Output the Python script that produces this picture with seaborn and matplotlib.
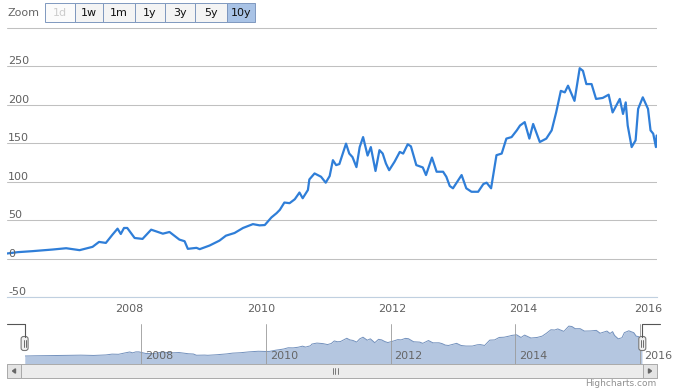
import matplotlib
matplotlib.use("Agg")
import matplotlib.pyplot as plt
import matplotlib.patches as mpatches
import matplotlib.transforms as mtransforms
import seaborn as sns
import pandas as pd

# weekly-ish closing values
dates = [
    "2006-02-20", "2006-04-20", "2006-07-10", "2006-10-30", "2007-01-14", "2007-03-30",
    "2007-06-10", "2007-07-16", "2007-08-23", "2007-09-29", "2007-10-27", "2007-11-14",
    "2007-12-02", "2007-12-20", "2008-01-30", "2008-03-14", "2008-05-01", "2008-07-05",
    "2008-08-11", "2008-10-05", "2008-11-03", "2008-11-21", "2009-01-08", "2009-01-26",
    "2009-03-22", "2009-05-16", "2009-06-21", "2009-08-08", "2009-09-24", "2009-11-18",
    "2009-12-25", "2010-01-23", "2010-03-01", "2010-03-30", "2010-04-17", "2010-05-12",
    "2010-06-10", "2010-07-09", "2010-08-04", "2010-08-22", "2010-09-20", "2010-09-28",
    "2010-10-27", "2010-12-02", "2010-12-28", "2011-01-19", "2011-02-06", "2011-02-24",
    "2011-03-14", "2011-04-20", "2011-05-08", "2011-05-26", "2011-06-17", "2011-07-05",
    "2011-07-24", "2011-08-18", "2011-09-05", "2011-10-01", "2011-10-23", "2011-11-10",
    "2011-11-28", "2011-12-16", "2012-01-15", "2012-02-13", "2012-03-03", "2012-03-28",
    "2012-04-15", "2012-05-15", "2012-06-20", "2012-07-08", "2012-08-10", "2012-09-05",
    "2012-10-11", "2012-10-29", "2012-11-17", "2012-12-05", "2013-01-22", "2013-02-17",
    "2013-03-18", "2013-04-24", "2013-05-23", "2013-06-10", "2013-07-05", "2013-08-04",
    "2013-09-02", "2013-09-28", "2013-10-27", "2013-11-25", "2013-12-13", "2014-01-08",
    "2014-02-03", "2014-02-24", "2014-04-02", "2014-05-08", "2014-06-07", "2014-07-02",
    "2014-07-28", "2014-08-19", "2014-09-06", "2014-10-12", "2014-11-10", "2014-11-28",
    "2014-12-17", "2015-01-15", "2015-02-09", "2015-03-18", "2015-04-20", "2015-05-12",
    "2015-06-21", "2015-07-09", "2015-07-24", "2015-08-04", "2015-08-26", "2015-09-17",
    "2015-10-01", "2015-10-27", "2015-11-25", "2015-12-09", "2015-12-24", "2016-01-08",
    "2016-01-12",
]
values = [
    6.9, 8.6, 9.9, 12, 13.7, 11.2,
    15.5, 21.9, 20.6, 31.4, 39.1, 32.2,
    40, 40, 27, 25.8, 37.8, 32.6,
    34.8, 24.9, 22.8, 12.9, 14.2, 12.5,
    17.2, 23.6, 30, 33.5, 40, 45,
    43.4, 43.8, 53.7, 59.3, 63.6, 73,
    72.2, 77.3, 86, 78.6, 89.3, 103,
    110.8, 106.5, 98.8, 107.4, 128, 121.6,
    123, 149.5, 136.6, 132, 119, 145,
    158, 134, 145, 114, 141, 136.6,
    123.7, 115, 126, 138.7, 136.6, 148.6,
    146, 121.6, 118.6, 108.7, 131.4, 113,
    113, 106.5, 94.5, 91.5, 108.7, 91.5,
    87, 87, 97, 98.8, 91.5, 134.5,
    136.6, 156, 158, 166.7, 173, 177.4,
    156, 175, 151.6, 156, 166.7, 190,
    218, 216, 224.7, 205, 247.4, 244,
    226.8, 226.8, 207.5, 208.8, 213, 190,
    207.5, 188, 203, 173, 145, 153.8,
    194.6, 209.6, 194.6, 166.7, 162.4, 145,
    160,
]
year_ticks = [2008, 2010, 2012, 2014, 2016]
y_ticks = [-50, 0, 50, 100, 150, 200, 250]
zoom_buttons = ["1d", "1w", "1m", "1y", "3y", "5y", "10y"]

df = pd.DataFrame({"date": pd.to_datetime(dates), "value": values})
x_start = pd.Timestamp("2006-02-19")
x_end = pd.Timestamp("2016-01-14")
tick_dates = [pd.Timestamp(f"{y}-01-01") for y in year_ticks]

sns.set_theme(style="white")
plt.rcParams["font.family"] = ["DejaVu Sans"]

W, H = 677, 388
fig = plt.figure(figsize=(W / 100, H / 100), dpi=100)


def box(left, top, right, bottom):
    return [left / W, 1 - bottom / H, (right - left) / W, (bottom - top) / H]


# main chart
ax = fig.add_axes(box(7, 27.3, 657, 297.3))
sns.lineplot(data=df, x="date", y="value", ax=ax, color="#2f7ed8", linewidth=1.6)
ax.set_xlim(x_start, x_end)
ax.set_ylim(-50, 300.5)
ax.set_yticks(range(-50, 301, 50))
ax.set_yticklabels([])
ax.grid(axis="y", color="#c0c0c0", linewidth=0.75)
ax.grid(axis="x", visible=False)
for s in ["left", "right", "top"]:
    ax.spines[s].set_visible(False)
ax.spines["bottom"].set_color("#c0d0e0")
ax.spines["bottom"].set_linewidth(0.8)
ax.set_xticks(tick_dates)
ax.set_xticklabels([str(y) for y in year_ticks])
ax.tick_params(axis="x", direction="in", length=2.5, color="#c0d0e0", pad=5,
               labelsize=8, labelcolor="#606060")
ax.tick_params(axis="y", length=0)
ax.set_xlabel("")
ax.set_ylabel("")
last = ax.get_xticklabels()[-1]
last.set_transform(last.get_transform() + mtransforms.ScaledTranslation(-0.065, 0, fig.dpi_scale_trans))

for v in y_ticks:
    ax.text(0.002, v + 2.6, str(v), transform=ax.get_yaxis_transform(), ha="left",
            va="baseline", fontsize=8, color="#606060", zorder=5)

# navigator
nav = fig.add_axes(box(24.6, 324.3, 642.3, 364.3))
nav.fill_between(df["date"], df["value"], -60, color="#b4c6e0", linewidth=0)
sns.lineplot(data=df, x="date", y="value", ax=nav, color="#7391bd", linewidth=0.7)
nav.set_xlim(x_start, x_end)
nav.set_ylim(-60, 262)
nav.axis("off")
lbl_tr = mtransforms.offset_copy(nav.get_xaxis_transform(), fig=fig, x=4, y=0, units="dots")
for d, y in zip(tick_dates, year_ticks):
    nav.axvline(d, color="#9a9a9a", linewidth=0.6, zorder=3)
    nav.text(d, 0.2, str(y), transform=lbl_tr, ha="left", va="center", fontsize=8,
             color="#666666", clip_on=False, zorder=4)

# overlay in pixel units for the range selector, handles and scrollbar
ui = fig.add_axes([0, 0, 1, 1])
ui.set_xlim(0, W)
ui.set_ylim(H, 0)
ui.axis("off")
ui.patch.set_alpha(0)

ui.text(8, 13, "Zoom", ha="left", va="center", fontsize=8, color="#666666")
edges = [45, 75, 103, 135, 165, 195, 227, 255]
for i, lab in enumerate(zoom_buttons):
    sel = lab == "10y"
    fc = "#a9c3e6" if sel else ("#fbfbfb" if lab == "1d" else "#f4f4f4")
    ui.add_patch(mpatches.Rectangle((edges[i], 3.3), edges[i + 1] - edges[i], 18.4,
                                    facecolor=fc, edgecolor="#7f98bf", linewidth=0.7))
    ui.text((edges[i] + edges[i + 1]) / 2, 12.8, lab, ha="center", va="center", fontsize=8,
            color="#cccccc" if lab == "1d" else "#111111")

# navigator outline + handles
ui.plot([7, 24.6, 24.6], [324.3, 324.3, 337], color="#555555", linewidth=0.8)
ui.plot([660, 642.3, 642.3], [324.3, 324.3, 337], color="#555555", linewidth=0.8)
for hx in [24.6, 642.3]:
    ui.add_patch(mpatches.FancyBboxPatch((hx - 3.5, 336.5), 7, 14,
                                         boxstyle="round,pad=0,rounding_size=2.5",
                                         facecolor="#f0f0f0", edgecolor="#777777", linewidth=0.8))
    for dx in [-1.1, 1.1]:
        ui.plot([hx + dx, hx + dx], [340, 347], color="#555555", linewidth=0.6)

# scrollbar
ui.add_patch(mpatches.Rectangle((7, 364.3), 650, 13.4, facecolor="#eeeeee",
                                edgecolor="#bbbbbb", linewidth=0.7))
ui.add_patch(mpatches.Rectangle((21, 364.3), 622, 13.4, facecolor="#ececec",
                                edgecolor="#aaaaaa", linewidth=0.7))
ui.add_patch(mpatches.Rectangle((7, 364.3), 14, 13.4, facecolor="#e4e4e4",
                                edgecolor="#aaaaaa", linewidth=0.7))
ui.add_patch(mpatches.Rectangle((643, 364.3), 14, 13.4, facecolor="#e4e4e4",
                                edgecolor="#aaaaaa", linewidth=0.7))
ui.add_patch(mpatches.Polygon([(12.5, 371), (15.5, 368.8), (15.5, 373.2)], color="#666666"))
ui.add_patch(mpatches.Polygon([(651.5, 371), (648.5, 368.8), (648.5, 373.2)], color="#666666"))
for gx in [332.5, 335, 337.5]:
    ui.plot([gx, gx], [368.3, 374], color="#666666", linewidth=0.6)

ui.text(656, 384, "Highcharts.com", ha="right", va="center", fontsize=6.5, color="#909090")

fig.savefig("out.png", dpi=100)
